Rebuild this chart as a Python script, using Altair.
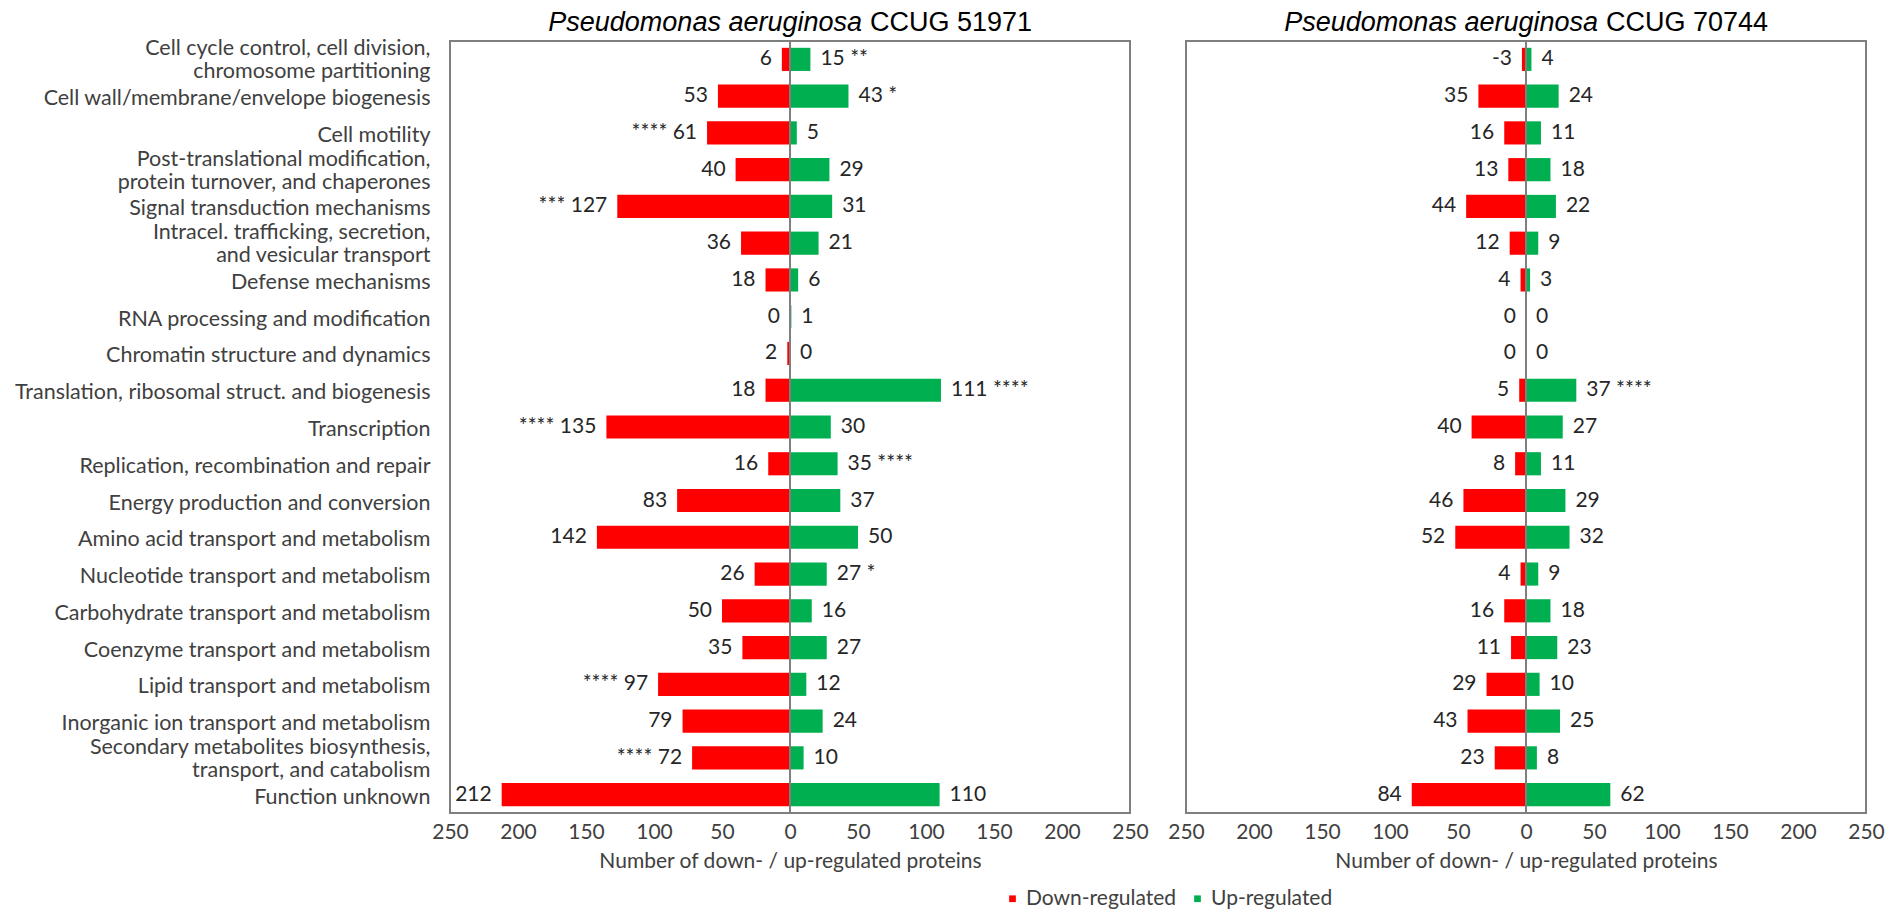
import altair as alt
import pandas as pd

categories = [
    "Cell cycle control, cell division,\nchromosome partitioning",
    "Cell wall/membrane/envelope biogenesis",
    "Cell motility",
    "Post-translational modification,\nprotein turnover, and chaperones",
    "Signal transduction mechanisms",
    "Intracel. trafficking, secretion,\nand vesicular transport",
    "Defense mechanisms",
    "RNA processing and modification",
    "Chromatin structure and dynamics",
    "Translation, ribosomal struct. and biogenesis",
    "Transcription",
    "Replication, recombination and repair",
    "Energy production and conversion",
    "Amino acid transport and metabolism",
    "Nucleotide transport and metabolism",
    "Carbohydrate transport and metabolism",
    "Coenzyme transport and metabolism",
    "Lipid transport and metabolism",
    "Inorganic ion transport and metabolism",
    "Secondary metabolites biosynthesis,\ntransport, and catabolism",
    "Function unknown",
]

down_51971 = [6, 53, 61, 40, 127, 36, 18, 0, 2, 18, 135, 16, 83, 142, 26, 50, 35, 97, 79, 72, 212]
up_51971 = [15, 43, 5, 29, 31, 21, 6, 1, 0, 111, 30, 35, 37, 50, 27, 16, 27, 12, 24, 10, 110]
stars_down_51971 = ["", "", "****", "", "***", "", "", "", "", "", "**** ", "", "", "", "", "", "", "****", "", "****", ""]
stars_up_51971 = ["**", "*", "", "", "", "", "", "", "", "****", "", " ****", "", "", "*", "", "", "", "", "", ""]

down_70744 = [-3, 35, 16, 13, 44, 12, 4, 0, 0, 5, 40, 8, 46, 52, 4, 16, 11, 29, 43, 23, 84]
up_70744 = [4, 24, 11, 18, 22, 9, 3, 0, 0, 37, 27, 11, 29, 32, 9, 18, 23, 10, 25, 8, 62]
stars_down_70744 = [""] * 21
stars_up_70744 = ["", "", "", "", "", "", "", "", "", "****", "", "", "", "", "", "", "", "", "", "", ""]

x_ticks = [-250, -200, -150, -100, -50, 0, 50, 100, 150, 200, 250]
series_names = ["Down-regulated", "Up-regulated"]
series_colors = ["#FF0000", "#00B050"]

FONT = "Lato"
TXT = "#404040"
W, H = 680, 772


def make_df(down, up, sd, su):
    rows = []
    for c, d, u, a, b in zip(categories, down, up, sd, su):
        dl = (a + " " + str(d)) if a else str(d)
        ul = (str(u) + " " + b) if b else str(u)
        rows.append({"cat": c, "dir": series_names[0], "value": -abs(d), "label": dl})
        rows.append({"cat": c, "dir": series_names[1], "value": u, "label": ul})
    return pd.DataFrame(rows)


def panel(down, up, sd, su, strain, show_y):
    df = make_df(down, up, sd, su)
    base = alt.Chart(df)
    yaxis = alt.Axis(
        title=None, ticks=False, tickSize=0, domain=False, labelFontSize=21.5,
        labelFont=FONT, labelColor=TXT, labelPadding=20, labelLimit=0,
        labelExpr="split(datum.label, '\\n')", labelLineHeight=23,
        labelBaseline="middle",
        labelOffset={"condition": {"test": "indexof(datum.value, '\\n') >= 0", "value": -10},
                     "value": 3},
    ) if show_y else None
    y = alt.Y("cat:N", sort=categories, axis=yaxis,
              scale=alt.Scale(paddingInner=0.37, paddingOuter=0.185))
    xscale = alt.Scale(domain=[-250, 250], nice=False, zero=True)
    x = alt.X("value:Q", scale=xscale, axis=alt.Axis(
        values=x_ticks, labelExpr="abs(datum.value)", grid=False, ticks=False,
        tickSize=0, domain=False, labelFontSize=21, labelFont=FONT, labelColor=TXT,
        labelPadding=8, labelFlush=False, labelOverlap=False,
        title="Number of down- / up-regulated proteins", titleFont=FONT,
        titleFontSize=21, titleFontWeight="normal", titleColor=TXT, titlePadding=8))
    bars = base.mark_bar().encode(
        x=x, y=y,
        color=alt.Color("dir:N", scale=alt.Scale(domain=series_names, range=series_colors),
                        legend=alt.Legend(
                            title=None, orient="none", direction="horizontal",
                            legendX=552, legendY=847, symbolType="square",
                            symbolSize=45, symbolStrokeWidth=0, labelFont=FONT,
                            labelFontSize=21, labelColor=TXT, labelOffset=3,
                            columnPadding=10)))
    tdown = base.transform_filter(alt.datum.dir == series_names[0]).mark_text(
        align="right", baseline="middle", dx=-10, fontSize=21, font=FONT, color="#262626"
    ).encode(x="value:Q", y=y, text="label:N")
    tup = base.transform_filter(alt.datum.dir == series_names[1]).mark_text(
        align="left", baseline="middle", dx=10, fontSize=21, font=FONT, color="#262626"
    ).encode(x="value:Q", y=y, text="label:N")
    zero = alt.Chart(pd.DataFrame({"z": [0]})).mark_rule(
        color="#7f7f7f", strokeWidth=2).encode(x=alt.X("z:Q", scale=xscale))
    tdf = pd.DataFrame({"a": ["Pseudomonas aeruginosa"], "b": [strain]})
    t1 = alt.Chart(tdf).mark_text(
        align="right", baseline="alphabetic", font="Liberation Sans", fontSize=27,
        fontStyle="italic", color="#000000"
    ).encode(x=alt.value(W / 2 + 72), y=alt.value(-10), text="a:N")
    t2 = alt.Chart(tdf).mark_text(
        align="left", baseline="alphabetic", font="Liberation Sans", fontSize=27,
        color="#000000"
    ).encode(x=alt.value(W / 2 + 80), y=alt.value(-10), text="b:N")
    return alt.layer(bars, zero, tdown, tup, t1, t2).properties(width=W, height=H)


left = panel(down_51971, up_51971, stars_down_51971, stars_up_51971, "CCUG 51971", True)
right = panel(down_70744, up_70744, stars_down_70744, stars_up_70744, "CCUG 70744", False)

chart = alt.hconcat(left, right, spacing=56, bounds="flush").configure_view(
    stroke="#7f7f7f", strokeWidth=2
).properties(padding={"left": 5, "top": 0, "right": 0, "bottom": 0})

chart.save("out.html", embed_options={"renderer": "svg", "actions": False})
